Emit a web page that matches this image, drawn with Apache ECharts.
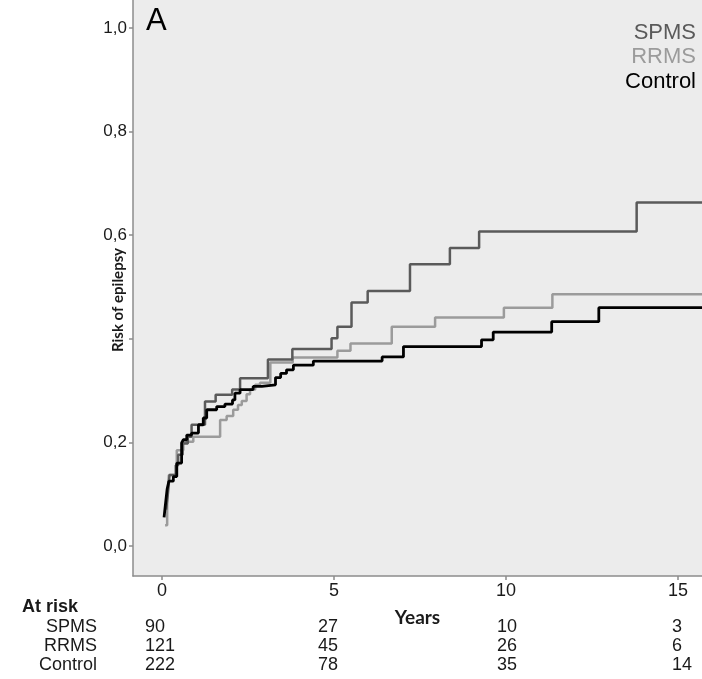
<!DOCTYPE html>
<html>
<head>
<meta charset="utf-8">
<script src="https://cdn.jsdelivr.net/npm/echarts@6/dist/echarts.min.js"></script>
<style>html,body{margin:0;padding:0;background:#fff;}#c{width:702px;height:679px;}</style>
</head>
<body>
<div id="c"></div>
<script>
// ---- data ----
const groups = ['SPMS', 'RRMS', 'Control'];
const spmsT = [0.12,0.17,0.22,0.40,0.47,0.60,0.75,0.86,1.25,1.56,2.04,2.27,3.08,3.79,4.93,5.10,5.51,5.98,7.21,8.37,9.22,13.80,15.70];
const spmsV = [0.07,0.10,0.137,0.156,0.176,0.198,0.211,0.234,0.279,0.292,0.302,0.324,0.360,0.380,0.401,0.423,0.470,0.492,0.544,0.575,0.607,0.663,0.663];
const rrmsT = [0.09,0.15,0.20,0.43,0.62,0.91,1.69,1.88,2.07,2.21,2.32,2.46,2.56,2.71,2.85,3.15,3.80,5.10,5.48,6.68,7.94,9.94,11.35,15.70];
const rrmsV = [0.04,0.09,0.137,0.185,0.201,0.211,0.243,0.251,0.263,0.272,0.280,0.293,0.302,0.311,0.315,0.354,0.364,0.377,0.391,0.423,0.441,0.460,0.486,0.486];
const ctrlT = [0.06,0.10,0.15,0.20,0.33,0.43,0.57,0.62,0.72,0.86,1.06,1.20,1.30,1.59,1.83,2.05,2.12,2.27,2.65,2.90,3.30,3.45,3.62,3.82,4.40,6.40,7.02,9.29,9.63,11.33,12.70,15.70];
const ctrlV = [0.055,0.08,0.11,0.125,0.134,0.16,0.199,0.205,0.214,0.218,0.234,0.247,0.263,0.269,0.274,0.282,0.295,0.302,0.308,0.311,0.325,0.333,0.340,0.349,0.357,0.365,0.385,0.398,0.413,0.433,0.460,0.460];
const xTicks = [0, 5, 10, 15];
const yTicks = [0, 0.2, 0.4, 0.6, 0.8, 1.0];
const yLabels = [0, 0.2, 0.6, 0.8, 1.0];
const atRiskSPMS = [90, 27, 10, 3];
const atRiskRRMS = [121, 45, 26, 6];
const atRiskCtrl = [222, 78, 35, 14];

// ---- styles / layout ----
const colors = { SPMS: '#5a5a5a', RRMS: '#9b9b9b', Control: '#000000' };
const colX = [145, 318, 497, 672];
const rowY = [627, 646, 665];
const txt = '#1a1a1a';
const arial = '"Liberation Sans", Arial, sans-serif';
const calib = 'Lato, "Open Sans", sans-serif';

function pairs(t, v) { return t.map((x, i) => [x, v[i]]); }
const fmt = v => v.toFixed(1).replace('.', ',');

const chart = echarts.init(document.getElementById('c'), null, { renderer: 'canvas' });

const graphics = [];
graphics.push({ type: 'text', style: { text: 'A', x: 146, y: 21, textVerticalAlign: 'middle', font: '31px ' + arial, fill: '#000' }, z: 10 });
graphics.push({ type: 'text', x: 118, y: 300, rotation: Math.PI / 2,
  style: { text: 'Risk of epilepsy', x: 0, y: 0, textAlign: 'center', textVerticalAlign: 'middle', font: 'bold 15px ' + calib, fill: txt }, z: 10 });
const legendY = [33, 57, 82];
groups.forEach((g, i) => {
  graphics.push({ type: 'text', style: { text: g, x: 696, y: legendY[i], textAlign: 'right', textVerticalAlign: 'middle', font: '22px ' + arial, fill: colors[g] }, z: 10 });
});
graphics.push({ type: 'text', style: { text: 'At risk', x: 22, y: 607, textAlign: 'left', textVerticalAlign: 'middle', font: 'bold 18px ' + arial, fill: txt } });
const rows = [atRiskSPMS, atRiskRRMS, atRiskCtrl];
groups.forEach((g, i) => {
  graphics.push({ type: 'text', style: { text: g, x: 97, y: rowY[i], textAlign: 'right', textVerticalAlign: 'middle', font: '18px ' + arial, fill: txt } });
  rows[i].forEach((n, j) => {
    graphics.push({ type: 'text', style: { text: String(n), x: colX[j], y: rowY[i], textAlign: 'left', textVerticalAlign: 'middle', font: '18px ' + arial, fill: txt } });
  });
});

const series = [
  { name: 'RRMS', data: pairs(rrmsT, rrmsV) },
  { name: 'SPMS', data: pairs(spmsT, spmsV) },
  { name: 'Control', data: pairs(ctrlT, ctrlV) }
].map(s => ({
  name: s.name, type: 'line', step: 'end', data: s.data, symbol: 'none', clip: true,
  lineStyle: { color: colors[s.name], width: s.name === 'Control' ? 2.8 : 2.5 },
  emphasis: { disabled: true }
}));

chart.setOption({
  animation: false,
  backgroundColor: '#ffffff',
  grid: { left: 133, right: 0, top: 0, bottom: 103, show: true, backgroundColor: '#ececec', borderWidth: 0 },
  xAxis: {
    type: 'value', min: -0.843, max: 15.7,
    name: 'Years', nameLocation: 'middle', nameGap: 32, nameMoveOverlap: false,
    nameTextStyle: { fontFamily: calib, fontWeight: 'bold', fontSize: 19, color: txt },
    axisLine: { show: true, onZero: false, lineStyle: { color: '#8c8c8c', width: 1.5 } },
    axisTick: { show: true, length: 4, lineStyle: { color: '#8c8c8c', width: 1.5 }, customValues: xTicks },
    axisLabel: { customValues: xTicks, margin: 6, fontSize: 18, fontFamily: arial, color: txt },
    splitLine: { show: false }
  },
  yAxis: {
    type: 'value', min: -0.058, max: 1.054,
    axisLine: { show: true, onZero: false, lineStyle: { color: '#8c8c8c', width: 1.5 } },
    axisTick: { show: true, length: 4, lineStyle: { color: '#8c8c8c', width: 1.5 }, customValues: yTicks },
    axisLabel: { customValues: yLabels, margin: 6, fontSize: 17, fontFamily: arial, color: txt, formatter: fmt },
    splitLine: { show: false }
  },
  series: series,
  graphic: graphics
});
</script>
</body>
</html>
